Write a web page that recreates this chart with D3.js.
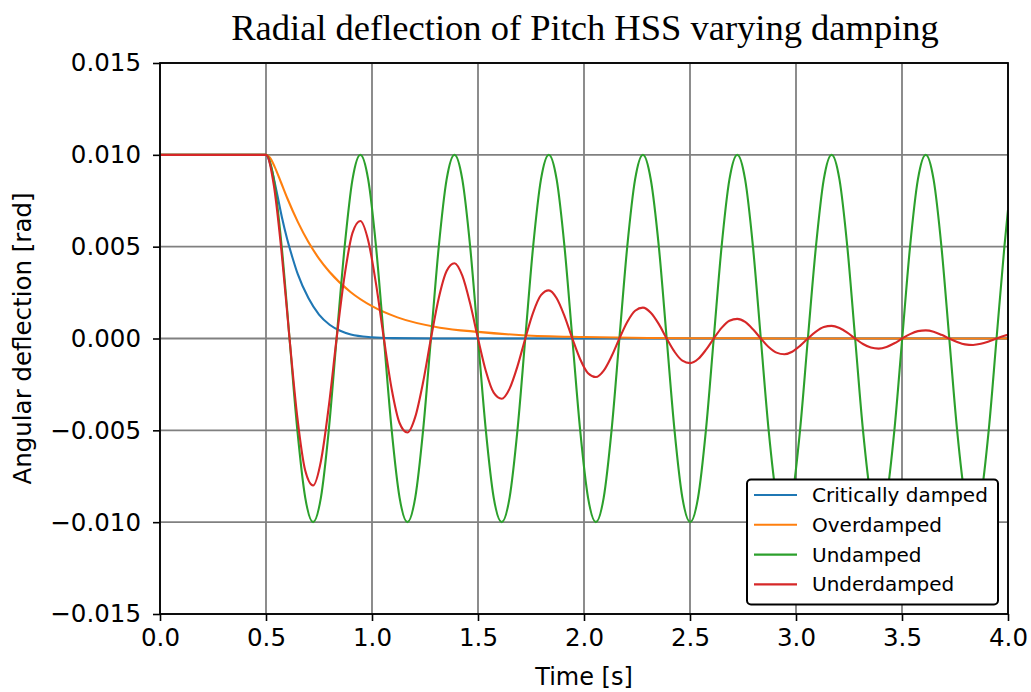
<!DOCTYPE html>
<html><head><meta charset="utf-8">
<script src="https://cdn.jsdelivr.net/npm/d3@7"></script>
<style>body{margin:0;background:#fff} svg{display:block}</style>
</head><body><svg id="chart" width="1031" height="692"></svg>
<script>
// ---------- data ----------
const xTicks = [0.0, 0.5, 1.0, 1.5, 2.0, 2.5, 3.0, 3.5, 4.0];
const yTicks = [-0.015, -0.010, -0.005, 0.000, 0.005, 0.010, 0.015];
const seriesNames = ["Critically damped", "Overdamped", "Undamped", "Underdamped"];
const seriesColors = ["#1f77b4", "#ff7f0e", "#2ca02c", "#d62728"];

const timeCritical = [0, 0.25, 0.5, 0.525, 0.55, 0.575, 0.60, 0.625, 0.65, 0.70, 0.75, 0.80, 0.85, 0.90, 1.0, 1.1, 1.3, 2.0, 3.0, 4.0];
const critical = [0.01, 0.01, 0.01, 0.0093, 0.0080, 0.0066, 0.0054, 0.0044, 0.0035, 0.0022, 0.0013, 0.00075, 0.00042, 0.00022, 0.00007, 0.00002, 0, 0, 0, 0];

const timeOver = [0, 0.25, 0.5, 0.52, 0.54, 0.57, 0.60, 0.65, 0.70, 0.75, 0.80, 0.90, 1.0, 1.12, 1.32, 1.5, 1.71, 2.0, 2.3, 2.7, 3.2, 4.0];
const over = [0.01, 0.01, 0.01, 0.00982, 0.00937, 0.00852, 0.00765, 0.00635, 0.00525, 0.00435, 0.00362, 0.00252, 0.00176, 0.00115, 0.00059, 0.00036, 0.00018, 0.00008, 0.00003, 0.00001, 0, 0];

const timeOsc = [0, 0.25,
  0.500, 0.537, 0.574, 0.611, 0.648, 0.685, 0.722, 0.759, 0.796, 0.833, 0.871, 0.908,
  0.945, 0.982, 1.019, 1.056, 1.093, 1.130, 1.167, 1.204, 1.241, 1.278, 1.315, 1.352,
  1.389, 1.426, 1.463, 1.500, 1.537, 1.574, 1.612, 1.649, 1.686, 1.723, 1.760, 1.797,
  1.834, 1.871, 1.908, 1.945, 1.982, 2.019, 2.056, 2.093, 2.130, 2.167, 2.204, 2.241,
  2.278, 2.315, 2.353, 2.390, 2.427, 2.464, 2.501, 2.538, 2.575, 2.612, 2.649, 2.686,
  2.723, 2.760, 2.797, 2.834, 2.871, 2.908, 2.945, 2.982, 3.019, 3.056, 3.094, 3.131,
  3.168, 3.205, 3.242, 3.279, 3.316, 3.353, 3.390, 3.427, 3.464, 3.501, 3.538, 3.575,
  3.612, 3.649, 3.686, 3.723, 3.760, 3.797, 3.835, 3.872, 3.909, 3.946, 3.983,
  4.0];

const undamped = [0.01, 0.01,
  0.01, 0.00866, 0.005, 0, -0.005, -0.00866, -0.01, -0.00866, -0.005, 0, 0.005, 0.00866,
  0.01, 0.00866, 0.005, 0, -0.005, -0.00866, -0.01, -0.00866, -0.005, 0, 0.005, 0.00866,
  0.01, 0.00866, 0.005, 0, -0.005, -0.00866, -0.01, -0.00866, -0.005, 0, 0.005, 0.00866,
  0.01, 0.00866, 0.005, 0, -0.005, -0.00866, -0.01, -0.00866, -0.005, 0, 0.005, 0.00866,
  0.01, 0.00866, 0.005, 0, -0.005, -0.00866, -0.01, -0.00866, -0.005, 0, 0.005, 0.00866,
  0.01, 0.00866, 0.005, 0, -0.005, -0.00866, -0.01, -0.00866, -0.005, 0, 0.005, 0.00866,
  0.01, 0.00866, 0.005, 0, -0.005, -0.00866, -0.01, -0.00866, -0.005, 0, 0.005, 0.00866,
  0.01, 0.00866, 0.005, 0, -0.005, -0.00866, -0.01, -0.00866, -0.005, 0, 0.005,
  0.0070];

const underdamped = [0.01, 0.01,
  0.01, 0.00834, 0.00464, 0, -0.00431, -0.00719, -0.00800, -0.00668, -0.00371, 0, 0.00345, 0.00575,
  0.00640, 0.00534, 0.00297, 0, -0.00276, -0.00460, -0.00512, -0.00427, -0.00238, 0, 0.00221, 0.00368,
  0.00410, 0.00342, 0.00190, 0, -0.00177, -0.00295, -0.00328, -0.00273, -0.00152, 0, 0.00141, 0.00236,
  0.00262, 0.00219, 0.00122, 0, -0.00113, -0.00189, -0.00210, -0.00175, -0.00097, 0, 0.00090, 0.00151,
  0.00168, 0.00140, 0.00078, 0, -0.00072, -0.00121, -0.00134, -0.00112, -0.00062, 0, 0.00058, 0.00097,
  0.00107, 0.00090, 0.00050, 0, -0.00046, -0.00077, -0.00086, -0.00072, -0.00040, 0, 0.00037, 0.00062,
  0.00069, 0.00057, 0.00032, 0, -0.00030, -0.00049, -0.00055, -0.00046, -0.00026, 0, 0.00024, 0.00040,
  0.00044, 0.00037, 0.00020, 0, -0.00019, -0.00032, -0.00035, -0.00029, -0.00016, 0, 0.00015,
  0.00020];

const titleText = "Radial deflection of Pitch HSS varying damping";
const xLabel = "Time [s]";
const yLabel = "Angular deflection [rad]";

// ---------- drawing ----------
const svg = d3.select("#chart");
const L = 160, R = 1008, T = 63, B = 614;
const x = d3.scaleLinear().domain([0, 4]).range([L, R]);
const y = d3.scaleLinear().domain([-0.015, 0.015]).range([B, T]);
const font = "'DejaVu Sans', sans-serif";

svg.append("rect").attr("width", 1031).attr("height", 692).attr("fill", "#fff");

// grid
const grid = svg.append("g").attr("stroke", "#808080").attr("stroke-width", 1.8);
grid.selectAll("line.v").data(xTicks).join("line")
  .attr("x1", d => x(d)).attr("x2", d => x(d)).attr("y1", T).attr("y2", B);
grid.selectAll("line.h").data(yTicks).join("line")
  .attr("y1", d => y(d)).attr("y2", d => y(d)).attr("x1", L).attr("x2", R);

// clip
svg.append("clipPath").attr("id", "clip").append("rect")
  .attr("x", L).attr("y", T).attr("width", R - L).attr("height", B - T);

const series = [
  {t: timeCritical, v: critical},
  {t: timeOver, v: over},
  {t: timeOsc, v: undamped},
  {t: timeOsc, v: underdamped}
];
const line = d3.line().x(d => x(d[0])).y(d => y(d[1])).curve(d3.curveMonotoneX);
const plot = svg.append("g").attr("clip-path", "url(#clip)");
series.forEach((s, i) => {
  const pts = s.t.map((t, j) => [t, s.v[j]]);
  plot.append("path").datum(pts).attr("d", line)
    .attr("fill", "none").attr("stroke", seriesColors[i]).attr("stroke-width", 2.1)
    .attr("stroke-linejoin", "round");
});

// axes
const xAxis = d3.axisBottom(x).tickValues(xTicks).tickFormat(d3.format(".1f")).tickSize(7).tickPadding(8);
const yAxis = d3.axisLeft(y).tickValues(yTicks).tickFormat(d3.format(".3f")).tickSize(7).tickPadding(12);
const gx = svg.append("g").attr("transform", `translate(0,${B})`).call(xAxis);
const gy = svg.append("g").attr("transform", `translate(${L},0)`).call(yAxis);
[gx, gy].forEach(g => {
  g.select(".domain").remove();
  g.selectAll(".tick line").attr("stroke", "#000").attr("stroke-width", 1.6);
  g.selectAll(".tick text").attr("fill", "#000").style("font-family", font).style("font-size", "24.5px");
});

// frame
svg.append("rect").attr("x", L).attr("y", T).attr("width", R - L).attr("height", B - T)
  .attr("fill", "none").attr("stroke", "#000").attr("stroke-width", 1.8);

// labels
svg.append("text").attr("x", 585).attr("y", 39.5).attr("text-anchor", "middle")
  .style("font-family", "'Liberation Serif', serif").style("font-size", "36.5px").text(titleText);
svg.append("text").attr("x", (L + R) / 2).attr("y", 685).attr("text-anchor", "middle")
  .style("font-family", font).style("font-size", "24px").text(xLabel);
svg.append("text").attr("transform", `translate(31,${(T + B) / 2}) rotate(-90)`).attr("text-anchor", "middle")
  .style("font-family", font).style("font-size", "24.5px").text(yLabel);

// legend
const lg = svg.append("g");
lg.append("rect").attr("x", 747).attr("y", 479.5).attr("width", 251).attr("height", 125).attr("rx", 4)
  .attr("fill", "#fff").attr("stroke", "#000").attr("stroke-width", 2);
seriesNames.forEach((n, i) => {
  const yy = 495 + i * 29.8;
  lg.append("line").attr("x1", 754).attr("x2", 797).attr("y1", yy).attr("y2", yy)
    .attr("stroke", seriesColors[i]).attr("stroke-width", 2.1);
  lg.append("text").attr("x", 812).attr("y", yy).attr("dy", "0.35em")
    .style("font-family", font).style("font-size", "20px").text(n);
});
</script>
</body></html>
